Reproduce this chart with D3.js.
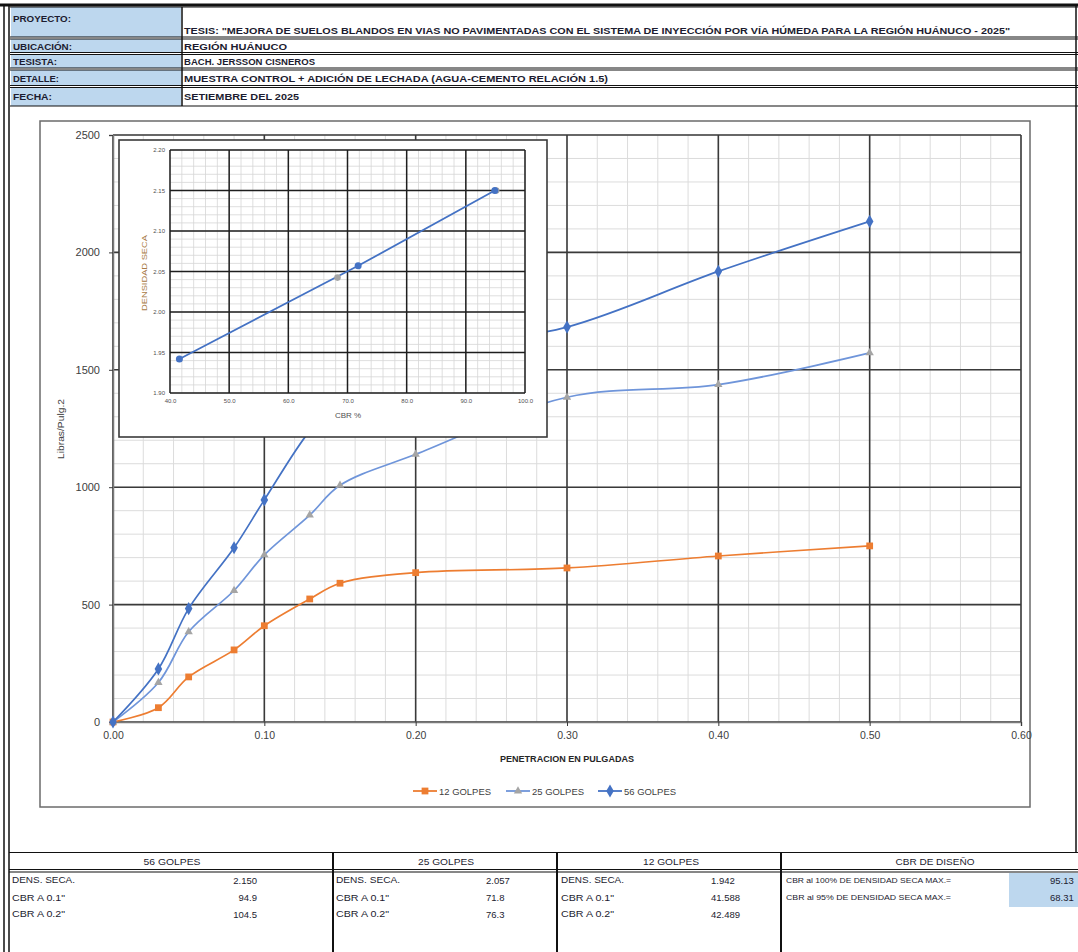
<!DOCTYPE html>
<html><head><meta charset="utf-8">
<script src="https://cdn.jsdelivr.net/npm/d3@7"></script>
<style>body{margin:0;background:#fff}svg{display:block}</style>
</head><body><svg id="c" width="1078" height="952"></svg>
<script>
// ---------- DATA ----------
const penetration = [0, 0.03, 0.05, 0.08, 0.10, 0.13, 0.15, 0.20, 0.30, 0.40, 0.50];
const golpes12 = [0, 61, 192, 307, 410, 524, 591, 636, 656, 707, 750];
const golpes25 = [0, 168, 384, 560, 712, 881, 1008, 1140, 1383, 1437, 1572];
const golpes56 = [0, 226, 483, 742, 946, 1240, 1370, 1567, 1682, 1919, 2132];
const seriesNames = ["12 GOLPES", "25 GOLPES", "56 GOLPES"];
const xTicks = [0, 0.1, 0.2, 0.3, 0.4, 0.5, 0.6];
const yTicks = [0, 500, 1000, 1500, 2000, 2500];
const xTitle = "PENETRACION EN PULGADAS";
const yTitle = "Libras/Pulg.2";

const insetCBR = [41.588, 71.8, 94.9];
const insetDens = [1.942, 2.057, 2.150];
const designCBR = [95.13, 68.31];
const designDens = [2.150, 2.0425];
const insetXTicks = [40, 50, 60, 70, 80, 90, 100];
const insetYTicks = [1.90, 1.95, 2.00, 2.05, 2.10, 2.15, 2.20];
const insetXTitle = "CBR %";
const insetYTitle = "DENSIDAD SECA";

const headerLabels = ["PROYECTO:", "UBICACIÓN:", "TESISTA:", "DETALLE:", "FECHA:"];
const headerValues = [
  "TESIS: \"MEJORA DE SUELOS BLANDOS EN VIAS NO PAVIMENTADAS CON EL SISTEMA DE INYECCIÓN POR VÍA HÚMEDA PARA LA REGIÓN HUÁNUCO - 2025\"",
  "REGIÓN HUÁNUCO",
  "BACH. JERSSON CISNEROS",
  "MUESTRA CONTROL + ADICIÓN DE LECHADA (AGUA-CEMENTO RELACIÓN 1.5)",
  "SETIEMBRE DEL 2025"
];
const tableHeads = ["56 GOLPES", "25 GOLPES", "12 GOLPES", "CBR DE DISEÑO"];
const rowLabels = ["DENS. SECA.", "CBR A 0.1\"", "CBR A 0.2\""];
const vals56 = ["2.150", "94.9", "104.5"];
const vals25 = ["2.057", "71.8", "76.3"];
const vals12 = ["1.942", "41.588", "42.489"];
const designLabels = ["CBR al 100% DE DENSIDAD SECA MAX.=", "CBR al 95% DE DENSIDAD SECA MAX.="];
const designValues = ["95.13", "68.31"];

// ---------- DRAW ----------
const svg = d3.select("#c");
const NARROW = "'Liberation Sans Narrow','Arial Narrow','Liberation Sans',Arial,sans-serif";
const SANS = "'Liberation Sans',Arial,sans-serif";
const ink = "#1c1c30";

function txt(g, x, y, s, o = {}) {
  const t = g.append("text").attr("x", x).attr("y", y).text(s)
    .attr("font-family", o.family || NARROW)
    .attr("font-size", o.size || 9.5)
    .attr("font-weight", o.weight || "normal")
    .attr("fill", o.fill || ink)
    .attr("dominant-baseline", "central")
    .attr("text-anchor", o.anchor || "start");
  if (o.len) t.attr("textLength", o.len).attr("lengthAdjust", "spacingAndGlyphs");
  if (o.rotate) t.attr("transform", `rotate(-90,${x},${y})`);
  return t;
}
function hline(g, x1, x2, y, w = 1, c = "#111") {
  g.append("line").attr("x1", x1).attr("x2", x2).attr("y1", y).attr("y2", y).attr("stroke", c).attr("stroke-width", w);
}
function vline(g, x, y1, y2, w = 1, c = "#111") {
  g.append("line").attr("x1", x).attr("x2", x).attr("y1", y1).attr("y2", y2).attr("stroke", c).attr("stroke-width", w);
}

// ---- header table ----
const H = svg.append("g");
const rowsY = [[7, 37], [39, 52.5], [54.5, 68], [70, 85.5], [87.5, 106]];
const labelTextY = [18.5, 46.5, 61.5, 78, 96];
const valueTextY = [30.3, 46.5, 61.5, 78, 96];
const labelLens = [58, 59, 44, 46, 39];
const valueLens = [826, 103, 131, 424, 115];
rowsY.forEach((r, i) => {
  H.append("rect").attr("x", 11).attr("y", r[0]).attr("width", 170).attr("height", r[1] - r[0]).attr("fill", "#BDD7EE");
  hline(H, 10, 1078, r[0], 1.2);
  hline(H, 10, 1078, r[1], 1.2);
  txt(H, 13, labelTextY[i], headerLabels[i], {weight: "bold", len: labelLens[i]});
  txt(H, 184, valueTextY[i], headerValues[i], {weight: "bold", len: valueLens[i]});
});
hline(H, 0, 1078, 5, 3);
vline(H, 182, 7, 106, 1.5);
vline(H, 1076, 5, 852, 1.5);
// left double border
vline(H, 4, 4, 952, 1.5);
vline(H, 9, 4, 952, 1.5);

// ---- bottom table ----
const B = svg.append("g");
hline(B, 9, 1078, 852.5, 1.2);
hline(B, 9, 1078, 869.5, 1.2);
hline(B, 9, 1078, 872, 1.2);
[333, 557, 781].forEach(x => vline(B, x, 852.5, 952, 2));
const headCx = [172, 446, 671, 935];
const headLens = [57, 56, 56, 79];
tableHeads.forEach((h, i) => txt(B, headCx[i], 861.5, h, {anchor: "middle", len: headLens[i], size: 9}));
const rowY = [880, 897.5, 914];
const lblX = [12, 336, 561];
const lblLens = [[63, 53, 53], [64, 53, 53], [63, 53, 53]];
rowLabels.forEach((l, r) => lblX.forEach((x, c) => txt(B, x, rowY[r], l, {len: lblLens[c][r], size: 9})));
vals56.forEach((v, r) => txt(B, 257, rowY[r], v, {anchor: "end", size: 9.5}));
vals25.forEach((v, r) => txt(B, 486, rowY[r], v, {size: 9.5}));
vals12.forEach((v, r) => txt(B, 711, rowY[r], v, {size: 9.5}));
B.append("rect").attr("x", 1009).attr("y", 873).attr("width", 69).attr("height", 34).attr("fill", "#BDD7EE");
designLabels.forEach((l, r) => txt(B, 786, rowY[r], l, {len: 165, size: 8}));
designValues.forEach((v, r) => txt(B, 1050, rowY[r], v, {size: 9.5}));

// ---- main chart ----
const C = svg.append("g");
C.append("rect").attr("x", 40).attr("y", 121).attr("width", 990).attr("height", 686)
  .attr("fill", "#fff").attr("stroke", "#6b6b6b").attr("stroke-width", 1.5);

const x = d3.scaleLinear().domain([0, 0.6]).range([113, 1021]);
const y = d3.scaleLinear().domain([0, 2500]).range([722, 135]);

// minor grid
const xMinor = d3.range(0, 0.6001, 0.02);
const yMinor = d3.range(0, 2500.1, 100);
const gMinor = C.append("g").attr("stroke", "#dcdcdc").attr("stroke-width", 1);
xMinor.forEach(v => gMinor.append("line").attr("x1", x(v)).attr("x2", x(v)).attr("y1", y(0)).attr("y2", y(2500)));
yMinor.forEach(v => gMinor.append("line").attr("x1", x(0)).attr("x2", x(0.6)).attr("y1", y(v)).attr("y2", y(v)));
// major grid
const gMajor = C.append("g").attr("stroke", "#3a3a3a").attr("stroke-width", 1.6);
xTicks.forEach(v => gMajor.append("line").attr("x1", x(v)).attr("x2", x(v)).attr("y1", y(0)).attr("y2", y(2500)));
yTicks.forEach(v => gMajor.append("line").attr("x1", x(0)).attr("x2", x(0.6)).attr("y1", y(v)).attr("y2", y(v)));

// axes
const ax = C.append("g").attr("transform", `translate(0,${y(0)})`)
  .call(d3.axisBottom(x).tickValues(xTicks).tickFormat(d3.format(".2f")).tickSize(4).tickPadding(6));
const ay = C.append("g").attr("transform", `translate(${x(0)},0)`)
  .call(d3.axisLeft(y).tickValues(yTicks).tickFormat(d3.format("d")).tickSize(4).tickPadding(9));
[ax, ay].forEach(a => {
  a.select(".domain").attr("stroke", "#7a7a7a").attr("stroke-width", 1.5);
  a.selectAll(".tick line").attr("stroke", "#3a3a3a");
  a.selectAll("text").attr("font-family", SANS).attr("font-size", 11).attr("fill", "#404040");
});
ax.selectAll("text").attr("font-size", 10.5);

txt(C, 567, 758, xTitle, {anchor: "middle", weight: "bold", size: 9.5, len: 134, fill: "#262626"});
txt(C, 61, 429, yTitle, {anchor: "middle", size: 9, rotate: true, fill: "#404040", len: 60});

const line = d3.line().x(d => x(d[0])).y(d => y(d[1])).curve(d3.curveCatmullRom.alpha(0.5));
const series = [
  {vals: golpes12, stroke: "#ED7D31", fill: "#ED7D31", sym: d3.symbolSquare, size: 46},
  {vals: golpes25, stroke: "#6F95DA", fill: "#A5A5A5", sym: d3.symbolTriangle, size: 30},
  {vals: golpes56, stroke: "#4472C4", fill: "#4472C4", sym: d3.symbolDiamond, size: 50}
];
series.forEach(s => {
  const pts = penetration.map((p, i) => [p, s.vals[i]]);
  C.append("path").attr("d", line(pts)).attr("fill", "none").attr("stroke", s.stroke).attr("stroke-width", 1.7);
  C.append("g").selectAll("path").data(pts).join("path")
    .attr("transform", d => `translate(${x(d[0])},${y(d[1])})`)
    .attr("d", d3.symbol().type(s.sym).size(s.size)).attr("fill", s.fill);
});

// legend
const legX = [413, 506, 598];
series.forEach((s, i) => {
  const lx = legX[i], ly = 791;
  C.append("line").attr("x1", lx).attr("x2", lx + 24).attr("y1", ly).attr("y2", ly).attr("stroke", s.stroke).attr("stroke-width", 1.8);
  C.append("path").attr("transform", `translate(${lx + 12},${ly})`).attr("d", d3.symbol().type(s.sym).size(s.size)).attr("fill", s.fill);
  txt(C, lx + 26, ly, seriesNames[i], {size: 9.5, fill: "#404040", len: 52});
});

// ---- inset chart ----
const I = svg.append("g");
I.append("rect").attr("x", 119).attr("y", 140).attr("width", 428).attr("height", 297)
  .attr("fill", "#fff").attr("stroke", "#3a3a3a").attr("stroke-width", 1.6);
const ix = d3.scaleLinear().domain([40, 100]).range([170, 525]);
const iy = d3.scaleLinear().domain([1.90, 2.20]).range([393, 150]);
const giMinor = I.append("g").attr("stroke", "#d6d6d6").attr("stroke-width", 0.8);
d3.range(40, 100.01, 2).forEach(v => giMinor.append("line").attr("x1", ix(v)).attr("x2", ix(v)).attr("y1", iy(1.9)).attr("y2", iy(2.2)));
d3.range(0, 30.01, 1).forEach(k => { const v = 1.9 + k * 0.01;
  giMinor.append("line").attr("x1", ix(40)).attr("x2", ix(100)).attr("y1", iy(v)).attr("y2", iy(v)); });
const giMajor = I.append("g").attr("stroke", "#1e1e1e").attr("stroke-width", 1.5);
insetXTicks.forEach(v => giMajor.append("line").attr("x1", ix(v)).attr("x2", ix(v)).attr("y1", iy(1.9)).attr("y2", iy(2.2)));
insetYTicks.forEach(v => giMajor.append("line").attr("x1", ix(40)).attr("x2", ix(100)).attr("y1", iy(v)).attr("y2", iy(v)));
const iax = I.append("g").attr("transform", `translate(0,${iy(1.9)})`)
  .call(d3.axisBottom(ix).tickValues(insetXTicks).tickFormat(d3.format(".1f")).tickSize(0).tickPadding(6));
const iay = I.append("g").attr("transform", `translate(${ix(40)},0)`)
  .call(d3.axisLeft(iy).tickValues(insetYTicks).tickFormat(d3.format(".2f")).tickSize(0).tickPadding(5));
[iax, iay].forEach(a => {
  a.select(".domain").remove();
  a.selectAll("text").attr("font-family", SANS).attr("font-size", 6).attr("fill", "#505050");
});
txt(I, 348, 415, insetXTitle, {anchor: "middle", size: 8, fill: "#505050", family: SANS});
txt(I, 144, 273, insetYTitle, {anchor: "middle", size: 7.5, rotate: true, fill: "#A87A45", family: SANS, len: 76});

const iline = d3.line().x(d => ix(d[0])).y(d => iy(d[1]));
const ipts = insetCBR.map((c, i) => [c, insetDens[i]]);
I.append("path").attr("d", iline(ipts)).attr("fill", "none").attr("stroke", "#4472C4").attr("stroke-width", 1.8);
I.append("g").selectAll("circle").data(designCBR.map((c, i) => [c, designDens[i]])).join("circle")
  .attr("cx", d => ix(d[0])).attr("cy", d => iy(d[1])).attr("r", 3.3).attr("fill", "#A5A5A5");
I.append("g").selectAll("circle").data(ipts).join("circle")
  .attr("cx", d => ix(d[0])).attr("cy", d => iy(d[1])).attr("r", 3.5).attr("fill", "#4472C4");
</script>
</body></html>
